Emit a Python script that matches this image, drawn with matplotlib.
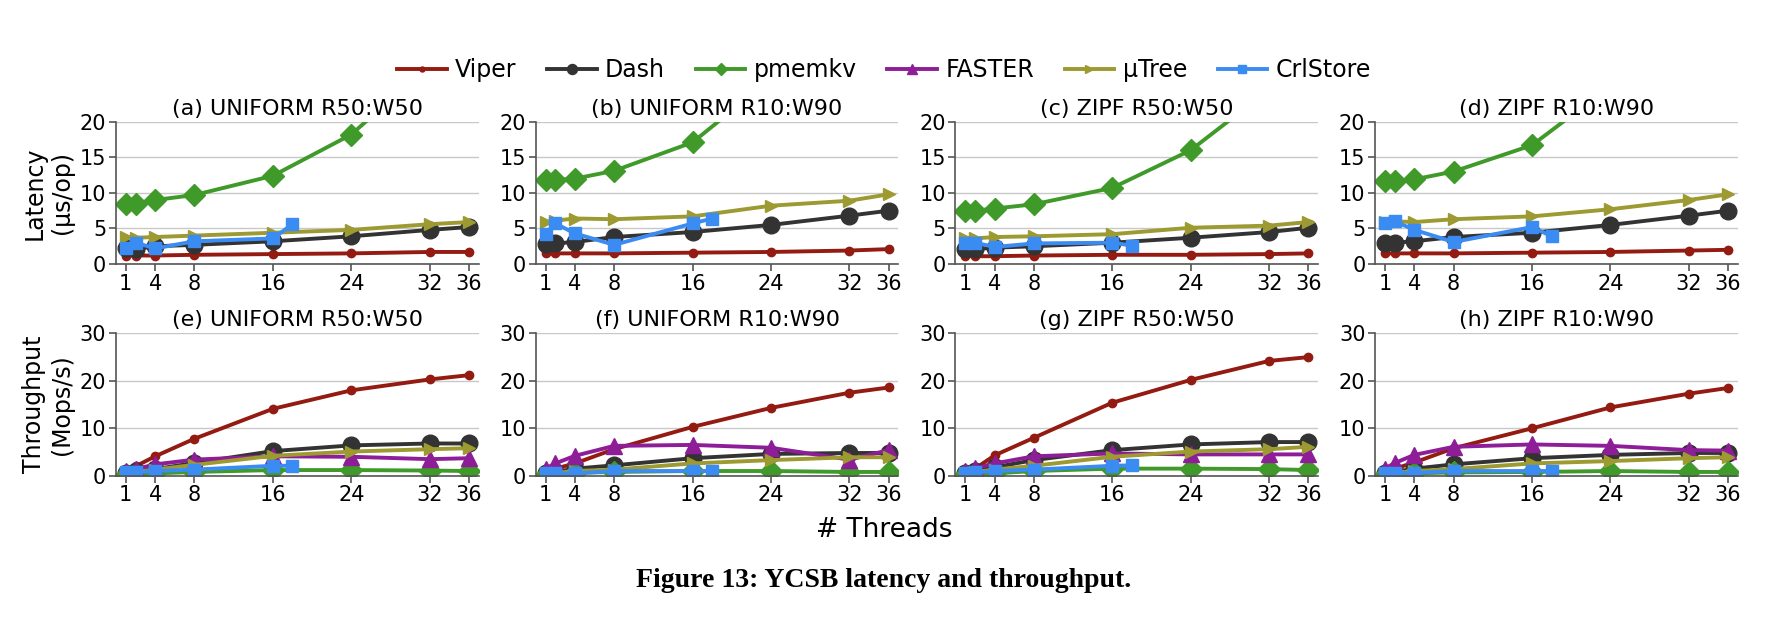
import matplotlib
matplotlib.use('Agg')
import matplotlib.pyplot as plt

threads = [1, 2, 4, 8, 16, 24, 32, 36]
crl_threads = [1, 2, 4, 8, 16, 18]
xticks = [1, 4, 8, 16, 24, 32, 36]

systems = ['Viper', 'Dash', 'pmemkv', 'FASTER', 'µTree', 'CrlStore']

titles_lat = ['(a) UNIFORM R50:W50', '(b) UNIFORM R10:W90',
              '(c) ZIPF R50:W50', '(d) ZIPF R10:W90']
titles_thr = ['(e) UNIFORM R50:W50', '(f) UNIFORM R10:W90',
              '(g) ZIPF R50:W50', '(h) ZIPF R10:W90']

# latency (us/op), one list per workload; FASTER not shown in the latency row
viper_lat = [
    [1.2, 1.2, 1.2, 1.3, 1.4, 1.5, 1.7, 1.7],
    [1.5, 1.5, 1.5, 1.5, 1.6, 1.7, 1.9, 2.1],
    [1.1, 1.1, 1.1, 1.2, 1.3, 1.3, 1.4, 1.5],
    [1.5, 1.5, 1.5, 1.5, 1.6, 1.7, 1.9, 2.0],
]
dash_lat = [
    [2.3, 2.1, 2.5, 2.7, 3.2, 3.9, 4.8, 5.2],
    [2.8, 2.9, 3.1, 3.8, 4.5, 5.5, 6.8, 7.5],
    [2.1, 2.1, 2.3, 2.5, 3.0, 3.7, 4.5, 5.1],
    [2.9, 3.0, 3.2, 3.8, 4.4, 5.5, 6.8, 7.5],
]
pmemkv_lat = [
    [8.4, 8.4, 9.0, 9.7, 12.4, 18.2, 28.0, 33.0],
    [11.8, 11.8, 12.0, 13.1, 17.1, 26.0, 33.0, 37.0],
    [7.5, 7.5, 7.8, 8.4, 10.7, 16.0, 24.5, 29.0],
    [11.7, 11.7, 11.9, 13.0, 16.7, 25.0, 31.0, 35.0],
]
mutree_lat = [
    [3.8, 3.7, 3.8, 4.0, 4.4, 4.8, 5.6, 5.9],
    [5.9, 6.1, 6.4, 6.3, 6.7, 8.2, 8.9, 9.8],
    [3.7, 3.6, 3.8, 3.9, 4.2, 5.1, 5.4, 5.9],
    [5.9, 6.0, 5.9, 6.3, 6.7, 7.7, 9.0, 9.8],
]
crl_lat = [
    [2.2, 3.0, 2.2, 3.2, 3.6, 5.6],
    [4.2, 5.7, 4.3, 2.7, 5.7, 6.4],
    [3.0, 3.0, 2.4, 2.9, 3.0, 2.6],
    [5.8, 6.0, 4.8, 3.1, 5.2, 3.9],
]

# throughput (Mops/s)
viper_thr = [
    [0.9, 2.0, 4.1, 7.8, 14.1, 18.0, 20.3, 21.2],
    [0.8, 1.5, 2.6, 5.6, 10.3, 14.3, 17.5, 18.6],
    [0.8, 1.5, 4.3, 8.0, 15.4, 20.2, 24.2, 25.0],
    [0.8, 1.5, 2.8, 5.8, 10.0, 14.4, 17.3, 18.5],
]
dash_thr = [
    [0.5, 1.0, 1.4, 2.7, 5.2, 6.4, 6.8, 6.8],
    [0.5, 0.8, 1.5, 2.2, 3.7, 4.6, 4.8, 4.8],
    [0.6, 1.0, 1.8, 3.3, 5.4, 6.6, 7.1, 7.1],
    [0.5, 0.8, 1.5, 2.4, 3.7, 4.4, 4.8, 4.8],
]
pmemkv_thr = [
    [0.2, 0.3, 0.5, 0.8, 1.2, 1.2, 1.1, 1.0],
    [0.1, 0.2, 0.6, 0.8, 1.0, 1.0, 0.8, 0.8],
    [0.2, 0.3, 0.5, 1.0, 1.5, 1.5, 1.4, 1.2],
    [0.1, 0.2, 0.5, 0.7, 0.8, 1.0, 0.8, 0.8],
]
faster_thr = [
    [1.0, 1.4, 2.4, 3.4, 4.1, 4.0, 3.5, 3.7],
    [1.5, 2.6, 4.2, 6.3, 6.5, 5.9, 3.4, 5.4],
    [1.0, 1.6, 2.6, 4.1, 4.7, 4.5, 4.5, 4.5],
    [1.5, 2.7, 4.4, 6.1, 6.6, 6.3, 5.4, 5.3],
]
mutree_thr = [
    [0.4, 0.8, 1.3, 2.3, 4.2, 5.1, 5.6, 5.8],
    [0.3, 0.6, 1.0, 1.3, 2.6, 3.3, 3.9, 3.9],
    [0.4, 0.8, 1.3, 2.1, 4.0, 5.1, 5.6, 6.1],
    [0.3, 0.6, 1.0, 1.4, 2.6, 3.1, 3.7, 3.9],
]
crl_thr = [
    [0.7, 0.8, 1.0, 1.3, 2.1, 2.1],
    [0.5, 0.5, 0.5, 1.0, 1.0, 1.0],
    [0.6, 0.7, 1.0, 1.3, 2.1, 2.2],
    [0.5, 0.6, 0.6, 1.0, 1.0, 1.0],
]

# name: (color, marker, markersize)
style = {
    'Viper': ('#931b11', 'o', 6),
    'Dash': ('#333333', 'o', 12),
    'pmemkv': ('#3f9a2a', 'D', 11),
    'FASTER': ('#8e1d98', '^', 11),
    'µTree': ('#9c9a30', '>', 9),
    'CrlStore': ('#3b8cf2', 's', 9),
}


def draw(ax, name, xs, ys):
    c, m, ms = style[name]
    ax.plot(xs, ys, '-', marker=m, color=c, markersize=ms, lw=2.8,
            label=name, clip_on=True)


def fmt(ax, ymax, step):
    ax.set_xlim(0, 37)
    ax.set_ylim(0, ymax)
    ax.set_xticks(xticks)
    ax.set_yticks(range(0, ymax + 1, step))
    ax.grid(axis='y', color='#c8c8c8', lw=1)
    ax.set_axisbelow(True)
    for s in ['top', 'right']:
        ax.spines[s].set_visible(False)
    for s in ['left', 'bottom']:
        ax.spines[s].set_color('#555555')
        ax.spines[s].set_linewidth(1.2)
    ax.tick_params(colors='#555555', labelcolor='black', labelsize=15,
                   length=5, width=1.2, pad=2)


plt.rcParams['font.family'] = 'DejaVu Sans'
fig, axes = plt.subplots(2, 4, figsize=(17.68, 6.26), dpi=100)
plt.subplots_adjust(left=0.0656, right=0.983, top=0.8056, bottom=0.240,
                    wspace=0.157, hspace=0.487)

for i in range(4):
    ax = axes[0][i]
    draw(ax, 'Viper', threads, viper_lat[i])
    draw(ax, 'Dash', threads, dash_lat[i])
    draw(ax, 'pmemkv', threads, pmemkv_lat[i])
    draw(ax, 'µTree', threads, mutree_lat[i])
    draw(ax, 'CrlStore', crl_threads, crl_lat[i])
    fmt(ax, 20, 5)
    ax.set_title(titles_lat[i], fontsize=16, pad=5)

    ax = axes[1][i]
    draw(ax, 'Viper', threads, viper_thr[i])
    draw(ax, 'Dash', threads, dash_thr[i])
    draw(ax, 'pmemkv', threads, pmemkv_thr[i])
    draw(ax, 'FASTER', threads, faster_thr[i])
    draw(ax, 'µTree', threads, mutree_thr[i])
    draw(ax, 'CrlStore', crl_threads, crl_thr[i])
    fmt(ax, 30, 10)
    ax.set_title(titles_thr[i], fontsize=16, pad=5)

axes[0][0].set_ylabel('Latency\n(µs/op)', fontsize=17, labelpad=4)
axes[1][0].set_ylabel('Throughput\n(Mops/s)', fontsize=17, labelpad=4)

handles, labels = axes[1][0].get_legend_handles_labels()
fig.legend(handles, labels, loc='center', bbox_to_anchor=(0.5, 0.888),
           ncol=6, frameon=False, fontsize=17, markerscale=0.6,
           handlelength=2.1, handletextpad=0.35, columnspacing=1.3)

fig.text(0.5, 0.153, '# Threads', ha='center', va='center', fontsize=19)
fig.text(0.5, 0.072, 'Figure 13: YCSB latency and throughput.', ha='center',
         va='center', fontsize=20, fontweight='bold',
         family=['Liberation Serif', 'DejaVu Serif'])

plt.savefig('out.png', dpi=100)
